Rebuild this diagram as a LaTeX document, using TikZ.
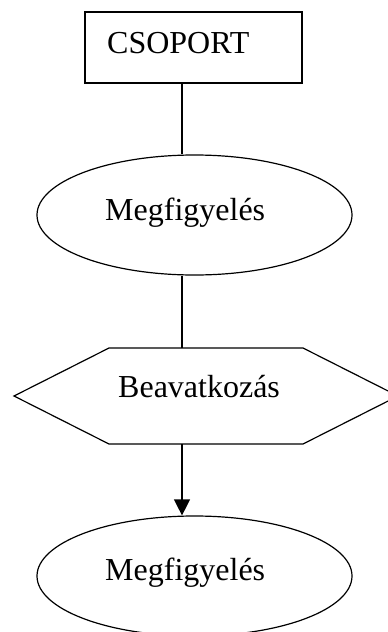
\documentclass[tikz,border=0pt]{standalone}
\usepackage{fontspec}
\setmainfont{Liberation Serif}
\usetikzlibrary{shapes.geometric,arrows.meta}
\tikzset{
  ln/.style={line width=1.2pt, draw=black},
  oval/.style={ellipse, ln, minimum width=315pt, minimum height=120pt, inner sep=0pt},
  lbl/.style={anchor=base west, inner sep=0pt, font=\fontsize{32}{38}\selectfont},
}
\begin{document}
\begin{tikzpicture}[x=1pt,y=-1pt]
\clip (0,0) rectangle (388,632);
\fill[white] (0,0) rectangle (388,632);
% box
\node[ln, rectangle, minimum width=217pt, minimum height=71pt, inner sep=0pt] (box) at (193.5,47.5) {};
\node[lbl] (csop) at (107,53) {CSOPORT};
% ellipse 1
\node[oval] (e1) at (194.5,215) {};
\node[lbl] (m1) at (105,220) {Megfigyelés};
% hexagon
\coordinate (hw) at (14,396);
\coordinate (htl) at (109,348);
\coordinate (htr) at (303,348);
\coordinate (he) at (398,396);
\coordinate (hbr) at (303,444);
\coordinate (hbl) at (109,444);
\draw[ln, line join=miter] (hw) -- (htl) -- (htr) -- (he) -- (hbr) -- (hbl) -- cycle;
\node[lbl] (bv) at (118,397) {Beavatkozás};
% ellipse 2
\node[oval] (e2) at (194.5,576) {};
\node[lbl] (m2) at (105,580) {Megfigyelés};
% connectors
\coordinate (cx) at (182,0);
\draw[ln] (box.south -| cx) -- (e1.north -| cx);
\draw[ln] (e1.south -| cx) -- (htl -| cx);
\draw[ln, -{Triangle[length=16pt,width=16pt]}] (hbl -| cx) -- (e2.north -| cx);
\end{tikzpicture}
\end{document}
